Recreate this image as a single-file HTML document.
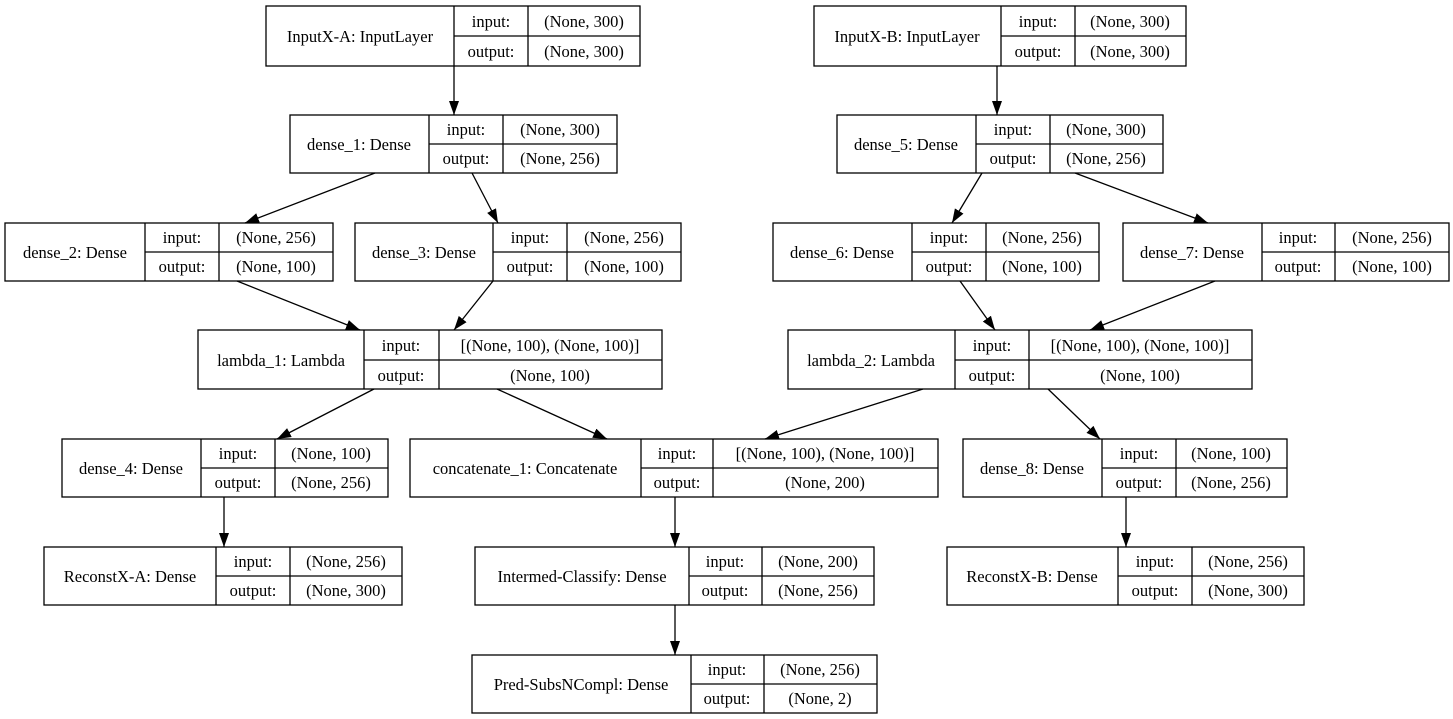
<!DOCTYPE html>
<html><head><meta charset="utf-8"><style>
html,body{margin:0;padding:0;background:#fff;}
svg{display:block;}
text{font-family:"Liberation Serif",serif;font-size:16.5px;fill:#000;}
rect,line.b{fill:none;stroke:#000;stroke-width:1.3;}
.e{stroke:#000;stroke-width:1.3;fill:none;}
</style></head><body>
<svg width="1453" height="719" viewBox="0 0 1453 719" xmlns="http://www.w3.org/2000/svg">
<defs><marker id="a" viewBox="0 0 14 12" refX="14" refY="6" markerWidth="14" markerHeight="12" markerUnits="userSpaceOnUse" orient="auto"><path d="M0,1 L14,6 L0,11 z" fill="#000"/></marker></defs>
<g text-anchor="middle">
<g><rect x="266" y="6" width="374" height="60"/><line class="b" x1="454" y1="6" x2="454" y2="66"/><line class="b" x1="528" y1="6" x2="528" y2="66"/><line class="b" x1="454" y1="36" x2="640" y2="36"/>
<text x="360" y="42">InputX-A: InputLayer</text><text x="491" y="27">input:</text><text x="491" y="57">output:</text><text x="584" y="27">(None, 300)</text><text x="584" y="57">(None, 300)</text></g>
<g><rect x="814" y="6" width="372" height="60"/><line class="b" x1="1001" y1="6" x2="1001" y2="66"/><line class="b" x1="1075" y1="6" x2="1075" y2="66"/><line class="b" x1="1001" y1="36" x2="1186" y2="36"/>
<text x="907" y="42">InputX-B: InputLayer</text><text x="1038" y="27">input:</text><text x="1038" y="57">output:</text><text x="1130" y="27">(None, 300)</text><text x="1130" y="57">(None, 300)</text></g>

<g><rect x="290" y="115" width="327" height="58"/><line class="b" x1="429" y1="115" x2="429" y2="173"/><line class="b" x1="503" y1="115" x2="503" y2="173"/><line class="b" x1="429" y1="144" x2="617" y2="144"/>
<text x="359" y="150">dense_1: Dense</text><text x="466" y="135">input:</text><text x="466" y="164">output:</text><text x="560" y="135">(None, 300)</text><text x="560" y="164">(None, 256)</text></g>
<g><rect x="837" y="115" width="326" height="58"/><line class="b" x1="976" y1="115" x2="976" y2="173"/><line class="b" x1="1050" y1="115" x2="1050" y2="173"/><line class="b" x1="976" y1="144" x2="1163" y2="144"/>
<text x="906" y="150">dense_5: Dense</text><text x="1013" y="135">input:</text><text x="1013" y="164">output:</text><text x="1106" y="135">(None, 300)</text><text x="1106" y="164">(None, 256)</text></g>

<g><rect x="5" y="223" width="328" height="58"/><line class="b" x1="145" y1="223" x2="145" y2="281"/><line class="b" x1="219" y1="223" x2="219" y2="281"/><line class="b" x1="145" y1="252" x2="333" y2="252"/>
<text x="75" y="258">dense_2: Dense</text><text x="182" y="243">input:</text><text x="182" y="272">output:</text><text x="276" y="243">(None, 256)</text><text x="276" y="272">(None, 100)</text></g>
<g><rect x="355" y="223" width="326" height="58"/><line class="b" x1="493" y1="223" x2="493" y2="281"/><line class="b" x1="567" y1="223" x2="567" y2="281"/><line class="b" x1="493" y1="252" x2="681" y2="252"/>
<text x="424" y="258">dense_3: Dense</text><text x="530" y="243">input:</text><text x="530" y="272">output:</text><text x="624" y="243">(None, 256)</text><text x="624" y="272">(None, 100)</text></g>
<g><rect x="773" y="223" width="326" height="58"/><line class="b" x1="912" y1="223" x2="912" y2="281"/><line class="b" x1="986" y1="223" x2="986" y2="281"/><line class="b" x1="912" y1="252" x2="1099" y2="252"/>
<text x="842" y="258">dense_6: Dense</text><text x="949" y="243">input:</text><text x="949" y="272">output:</text><text x="1042" y="243">(None, 256)</text><text x="1042" y="272">(None, 100)</text></g>
<g><rect x="1123" y="223" width="326" height="58"/><line class="b" x1="1262" y1="223" x2="1262" y2="281"/><line class="b" x1="1335" y1="223" x2="1335" y2="281"/><line class="b" x1="1262" y1="252" x2="1449" y2="252"/>
<text x="1192" y="258">dense_7: Dense</text><text x="1298" y="243">input:</text><text x="1298" y="272">output:</text><text x="1392" y="243">(None, 256)</text><text x="1392" y="272">(None, 100)</text></g>

<g><rect x="198" y="330" width="464" height="59"/><line class="b" x1="364" y1="330" x2="364" y2="389"/><line class="b" x1="439" y1="330" x2="439" y2="389"/><line class="b" x1="364" y1="360" x2="662" y2="360"/>
<text x="281" y="366">lambda_1: Lambda</text><text x="401" y="351">input:</text><text x="401" y="381">output:</text><text x="550" y="351">[(None, 100), (None, 100)]</text><text x="550" y="381">(None, 100)</text></g>
<g><rect x="788" y="330" width="464" height="59"/><line class="b" x1="955" y1="330" x2="955" y2="389"/><line class="b" x1="1029" y1="330" x2="1029" y2="389"/><line class="b" x1="955" y1="360" x2="1252" y2="360"/>
<text x="871" y="366">lambda_2: Lambda</text><text x="992" y="351">input:</text><text x="992" y="381">output:</text><text x="1140" y="351">[(None, 100), (None, 100)]</text><text x="1140" y="381">(None, 100)</text></g>

<g><rect x="62" y="439" width="326" height="58"/><line class="b" x1="201" y1="439" x2="201" y2="497"/><line class="b" x1="275" y1="439" x2="275" y2="497"/><line class="b" x1="201" y1="468" x2="388" y2="468"/>
<text x="131" y="474">dense_4: Dense</text><text x="238" y="459">input:</text><text x="238" y="488">output:</text><text x="331" y="459">(None, 100)</text><text x="331" y="488">(None, 256)</text></g>
<g><rect x="410" y="439" width="528" height="58"/><line class="b" x1="641" y1="439" x2="641" y2="497"/><line class="b" x1="713" y1="439" x2="713" y2="497"/><line class="b" x1="641" y1="468" x2="938" y2="468"/>
<text x="525" y="474">concatenate_1: Concatenate</text><text x="677" y="459">input:</text><text x="677" y="488">output:</text><text x="825" y="459">[(None, 100), (None, 100)]</text><text x="825" y="488">(None, 200)</text></g>
<g><rect x="963" y="439" width="324" height="58"/><line class="b" x1="1102" y1="439" x2="1102" y2="497"/><line class="b" x1="1176" y1="439" x2="1176" y2="497"/><line class="b" x1="1102" y1="468" x2="1287" y2="468"/>
<text x="1032" y="474">dense_8: Dense</text><text x="1139" y="459">input:</text><text x="1139" y="488">output:</text><text x="1231" y="459">(None, 100)</text><text x="1231" y="488">(None, 256)</text></g>

<g><rect x="44" y="547" width="358" height="58"/><line class="b" x1="216" y1="547" x2="216" y2="605"/><line class="b" x1="290" y1="547" x2="290" y2="605"/><line class="b" x1="216" y1="576" x2="402" y2="576"/>
<text x="130" y="582">ReconstX-A: Dense</text><text x="253" y="567">input:</text><text x="253" y="596">output:</text><text x="346" y="567">(None, 256)</text><text x="346" y="596">(None, 300)</text></g>
<g><rect x="475" y="547" width="399" height="58"/><line class="b" x1="689" y1="547" x2="689" y2="605"/><line class="b" x1="762" y1="547" x2="762" y2="605"/><line class="b" x1="689" y1="576" x2="874" y2="576"/>
<text x="582" y="582">Intermed-Classify: Dense</text><text x="725" y="567">input:</text><text x="725" y="596">output:</text><text x="818" y="567">(None, 200)</text><text x="818" y="596">(None, 256)</text></g>
<g><rect x="947" y="547" width="357" height="58"/><line class="b" x1="1118" y1="547" x2="1118" y2="605"/><line class="b" x1="1192" y1="547" x2="1192" y2="605"/><line class="b" x1="1118" y1="576" x2="1304" y2="576"/>
<text x="1032" y="582">ReconstX-B: Dense</text><text x="1155" y="567">input:</text><text x="1155" y="596">output:</text><text x="1248" y="567">(None, 256)</text><text x="1248" y="596">(None, 300)</text></g>

<g><rect x="472" y="655" width="405" height="58"/><line class="b" x1="691" y1="655" x2="691" y2="713"/><line class="b" x1="764" y1="655" x2="764" y2="713"/><line class="b" x1="691" y1="684" x2="877" y2="684"/>
<text x="581" y="690">Pred-SubsNCompl: Dense</text><text x="727" y="675">input:</text><text x="727" y="704">output:</text><text x="820" y="675">(None, 256)</text><text x="820" y="704">(None, 2)</text></g>
</g>
<g>
<line class="e" x1="454" y1="66" x2="454" y2="115" marker-end="url(#a)"/>
<line class="e" x1="997" y1="66" x2="997" y2="115" marker-end="url(#a)"/>
<line class="e" x1="375" y1="173" x2="245" y2="223" marker-end="url(#a)"/>
<line class="e" x1="472" y1="173" x2="498" y2="223" marker-end="url(#a)"/>
<line class="e" x1="982" y1="173" x2="952" y2="223" marker-end="url(#a)"/>
<line class="e" x1="1075" y1="173" x2="1208" y2="223" marker-end="url(#a)"/>
<line class="e" x1="237" y1="281" x2="360" y2="330" marker-end="url(#a)"/>
<line class="e" x1="493" y1="281" x2="454" y2="330" marker-end="url(#a)"/>
<line class="e" x1="960" y1="281" x2="995" y2="330" marker-end="url(#a)"/>
<line class="e" x1="1215" y1="281" x2="1090" y2="330" marker-end="url(#a)"/>
<line class="e" x1="374" y1="389" x2="277" y2="439" marker-end="url(#a)"/>
<line class="e" x1="497" y1="389" x2="607" y2="439" marker-end="url(#a)"/>
<line class="e" x1="923" y1="389" x2="765" y2="439" marker-end="url(#a)"/>
<line class="e" x1="1048" y1="389" x2="1100" y2="439" marker-end="url(#a)"/>
<line class="e" x1="224" y1="497" x2="224" y2="547" marker-end="url(#a)"/>
<line class="e" x1="675" y1="497" x2="675" y2="547" marker-end="url(#a)"/>
<line class="e" x1="1126" y1="497" x2="1126" y2="547" marker-end="url(#a)"/>
<line class="e" x1="675" y1="605" x2="675" y2="655" marker-end="url(#a)"/>
</g>
</svg>
</body></html>
